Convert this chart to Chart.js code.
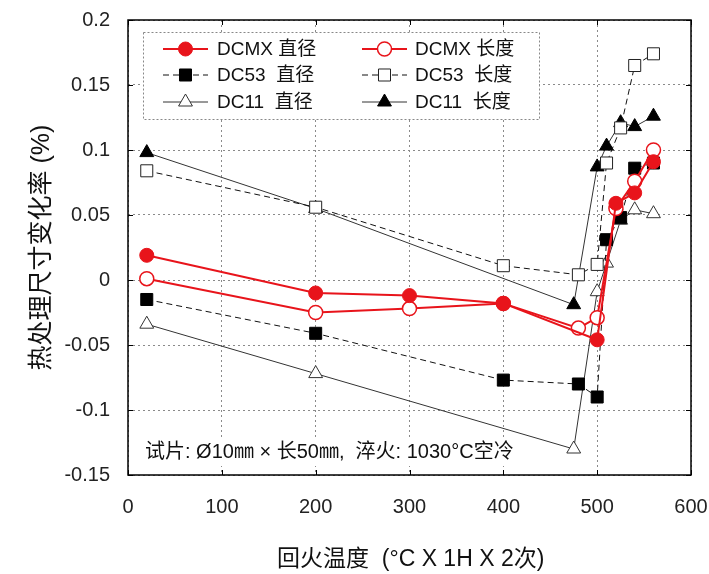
<!DOCTYPE html>
<html>
<head>
<meta charset="utf-8">
<script src="https://cdn.jsdelivr.net/npm/chart.js@4/dist/chart.umd.min.js"></script>
<style>
  html, body { margin: 0; padding: 0; background: #fff; }
</style>
</head>
<body>
<canvas id="chart" width="709" height="574"></canvas>
<script>
// tick labels
const xTicks = [0, 100, 200, 300, 400, 500, 600];
const yTicks = [-0.15, -0.1, -0.05, 0, 0.05, 0.1, 0.15, 0.2];

// series (temperature, change %)
const dcmxDiaT = [20, 200, 300, 400, 500, 520, 540, 560];
const dcmxDiaV = [0.019, -0.010, -0.012, -0.018, -0.046, 0.059, 0.067, 0.091];

const dcmxLenT = [20, 200, 300, 400, 480, 500, 520, 540, 560];
const dcmxLenV = [0.001, -0.025, -0.022, -0.018, -0.037, -0.029, 0.055, 0.076, 0.100];

const dc53DiaT = [20, 200, 400, 480, 500, 510, 525, 540, 560];
const dc53DiaV = [-0.015, -0.041, -0.077, -0.080, -0.090, 0.031, 0.048, 0.086, 0.090];

const dc53LenT = [20, 200, 400, 480, 500, 510, 525, 540, 560];
const dc53LenV = [0.084, 0.056, 0.011, 0.004, 0.012, 0.090, 0.117, 0.165, 0.174];

const dc11DiaT = [20, 200, 475, 500, 510, 525, 540, 560];
const dc11DiaV = [-0.034, -0.072, -0.130, -0.009, 0.013, 0.046, 0.054, 0.051];

const dc11LenT = [20, 200, 475, 500, 510, 525, 540, 560];
const dc11LenV = [0.098, 0.055, -0.019, 0.087, 0.103, 0.121, 0.118, 0.126];

const seriesNames = ['DCMX 直径', 'DCMX 长度', 'DC53  直径', 'DC53  长度', 'DC11  直径', 'DC11  长度'];
const note = '试片: Ø10㎜ × 长50㎜,  淬火: 1030°C空冷';
const xTitle = '回火温度  (°C X 1H X 2次)';
const yTitle = '热处理尺寸变化率 (%)';

const FONT = '"Liberation Sans", Arial, "Noto Sans CJK SC", sans-serif';

function pts(ts, vs) {
    return ts.map((t, i) => ({ x: t, y: vs[i] }));
}

const RED = '#e8141b';

const datasets = [
    {
        label: seriesNames[0], data: pts(dcmxDiaT, dcmxDiaV),
        borderColor: RED, borderWidth: 2, pointStyle: 'circle', pointRadius: 7,
        pointBackgroundColor: RED, pointBorderColor: RED, pointBorderWidth: 1
    },
    {
        label: seriesNames[1], data: pts(dcmxLenT, dcmxLenV),
        borderColor: RED, borderWidth: 2, pointStyle: 'circle', pointRadius: 7,
        pointBackgroundColor: '#fff', pointBorderColor: RED, pointBorderWidth: 1.5
    },
    {
        label: seriesNames[2], data: pts(dc53DiaT, dc53DiaV),
        borderColor: '#111', borderWidth: 1, borderDash: [6, 4], pointStyle: 'rect', pointRadius: 8.5,
        pointBackgroundColor: '#000', pointBorderColor: '#000', pointBorderWidth: 1
    },
    {
        label: seriesNames[3], data: pts(dc53LenT, dc53LenV),
        borderColor: '#111', borderWidth: 1, borderDash: [6, 4], pointStyle: 'rect', pointRadius: 8.5,
        pointBackgroundColor: '#fff', pointBorderColor: '#222', pointBorderWidth: 1
    },
    {
        label: seriesNames[4], data: pts(dc11DiaT, dc11DiaV),
        borderColor: '#333', borderWidth: 1, pointStyle: 'triangle', pointRadius: 8,
        pointBackgroundColor: '#fff', pointBorderColor: '#333', pointBorderWidth: 1
    },
    {
        label: seriesNames[5], data: pts(dc11LenT, dc11LenV),
        borderColor: '#333', borderWidth: 1, pointStyle: 'triangle', pointRadius: 8,
        pointBackgroundColor: '#000', pointBorderColor: '#000', pointBorderWidth: 1
    }
];

// frame, inward ticks, x title, note and legend box
const extras = {
    id: 'extras',
    afterDatasetsDraw(chart) {
        const ctx = chart.ctx;
        const a = chart.chartArea;
        const xs = chart.scales.x, ys = chart.scales.y;

        ctx.save();
        ctx.strokeStyle = '#000';
        ctx.lineWidth = 1.5;
        ctx.strokeRect(a.left, a.top, a.right - a.left, a.bottom - a.top);
        ctx.lineWidth = 1;
        ctx.beginPath();
        xTicks.forEach(v => {
            const px = Math.round(xs.getPixelForValue(v)) + 0.5;
            ctx.moveTo(px, a.bottom); ctx.lineTo(px, a.bottom - 5);
            ctx.moveTo(px, a.top); ctx.lineTo(px, a.top + 5);
        });
        yTicks.forEach(v => {
            const py = Math.round(ys.getPixelForValue(v)) + 0.5;
            ctx.moveTo(a.left, py); ctx.lineTo(a.left + 5, py);
            ctx.moveTo(a.right, py); ctx.lineTo(a.right - 5, py);
        });
        ctx.stroke();

        // x axis title (sits a bit right of centre in the original)
        ctx.font = '23px ' + FONT;
        ctx.fillStyle = '#111';
        ctx.textBaseline = 'middle';
        ctx.textAlign = 'left';
        ctx.fillText(xTitle, 277, 560);

        // note
        ctx.font = '20px ' + FONT;
        const nw = ctx.measureText(note).width;
        ctx.fillStyle = '#fff';
        ctx.fillRect(140, 438, nw + 10, 28);
        ctx.fillStyle = '#111';
        ctx.fillText(note, 145, 452);

        // legend
        const bx = 143, by = 32, bw = 396, bh = 87;
        ctx.fillStyle = '#fff';
        ctx.fillRect(bx, by, bw, bh);
        ctx.strokeStyle = '#888';
        ctx.setLineDash([2, 2]);
        ctx.strokeRect(bx + 0.5, by + 0.5, bw, bh);
        ctx.setLineDash([]);

        const rows = [49, 75, 102];
        const cols = [{ s: 163, e: 208, t: 217 }, { s: 362, e: 407, t: 415 }];
        chart.data.datasets.forEach((ds, i) => {
            const col = cols[i % 2];
            const y = rows[Math.floor(i / 2)];
            ctx.save();
            ctx.strokeStyle = ds.borderColor;
            ctx.lineWidth = ds.borderWidth;
            ctx.setLineDash(ds.borderDash || []);
            ctx.beginPath();
            ctx.moveTo(col.s, y); ctx.lineTo(col.e, y);
            ctx.stroke();
            ctx.setLineDash([]);
            ctx.fillStyle = ds.pointBackgroundColor;
            ctx.strokeStyle = ds.pointBorderColor;
            ctx.lineWidth = ds.pointBorderWidth;
            Chart.helpers.drawPoint(ctx, {
                pointStyle: ds.pointStyle, radius: ds.pointRadius, rotation: 0, borderWidth: ds.pointBorderWidth
            }, (col.s + col.e) / 2, y);
            ctx.restore();
            ctx.font = '19px ' + FONT;
            ctx.fillStyle = '#111';
            ctx.textBaseline = 'middle';
            ctx.fillText(ds.label, col.t, y + 1);
        });
        ctx.restore();
    }
};

new Chart(document.getElementById('chart'), {
    type: 'line',
    data: { datasets: datasets },
    plugins: [extras],
    options: {
        responsive: false,
        animation: false,
        layout: { padding: 0 },
        plugins: { legend: { display: false }, tooltip: { enabled: false } },
        elements: { line: { tension: 0 } },
        scales: {
            x: {
                type: 'linear', min: 0, max: 600,
                afterBuildTicks: s => { s.ticks = xTicks.map(v => ({ value: v })); },
                afterFit: s => { s.height = 99; s.paddingLeft = 0; s.paddingRight = 18; },
                ticks: { color: '#222', padding: 20, font: { size: 20, family: FONT }, callback: v => String(v) },
                grid: { color: '#8a8a8a', lineWidth: 1, drawTicks: false },
                border: { display: false, dash: [2, 3] }
            },
            y: {
                type: 'linear', min: -0.15, max: 0.2,
                afterBuildTicks: s => { s.ticks = yTicks.map(v => ({ value: v })); },
                afterFit: s => { s.width = 128; s.paddingTop = 20; s.paddingBottom = 0; },
                ticks: { color: '#222', padding: 18, font: { size: 20, family: FONT }, callback: v => String(v) },
                grid: { color: '#8a8a8a', lineWidth: 1, drawTicks: false },
                border: { display: false, dash: [2, 3] },
                title: {
                    display: true, text: yTitle, color: '#111',
                    font: { size: 25, family: FONT }, padding: { top: 27, bottom: 0 }
                }
            }
        }
    }
});
</script>
</body>
</html>
